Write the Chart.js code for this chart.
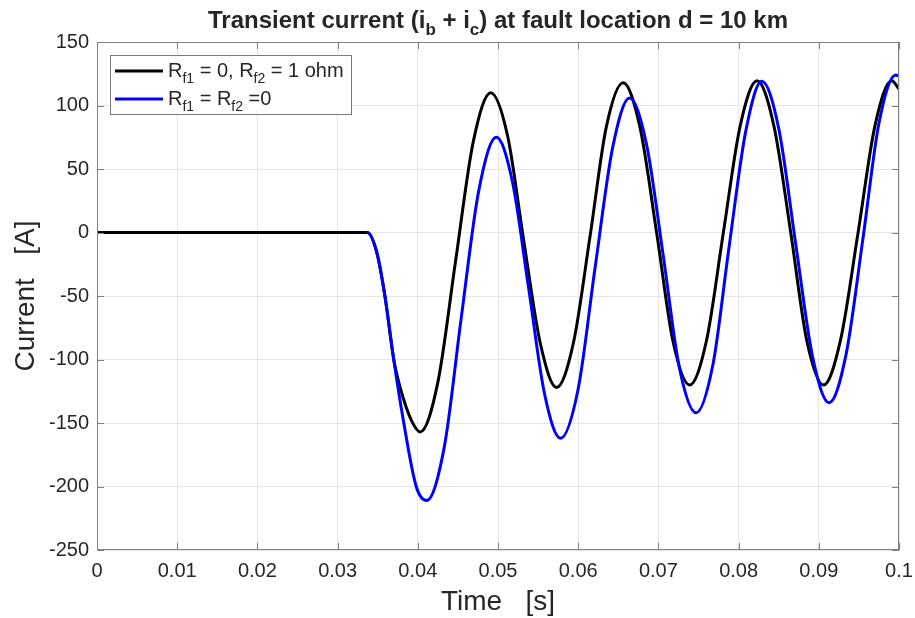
<!DOCTYPE html>
<html>
<head>
<meta charset="utf-8">
<script src="https://cdn.jsdelivr.net/npm/chart.js@4.4.0/dist/chart.umd.min.js"></script>
<style>
  html, body { margin: 0; padding: 0; background: #fff; }
</style>
</head>
<body>
<canvas id="faultChart" width="915" height="618"></canvas>
<script>
// values (time in s, current in A)
const timeBlack = [0, 0.0337, 0.0349, 0.0359, 0.0370, 0.0378, 0.0392, 0.0403,
  0.0425, 0.0447, 0.0469, 0.0491, 0.0512, 0.0532, 0.0553, 0.0573,
  0.0594, 0.0615, 0.0635, 0.0656, 0.0677, 0.0698, 0.0718, 0.0739,
  0.0760, 0.0781, 0.0802, 0.0823, 0.0844, 0.0865, 0.0885, 0.0906,
  0.0927, 0.0949, 0.0970, 0.0991, 0.1000];
const currentBlack = [0, 0, -16, -50, -100, -122, -148, -157,
  -118, -23, 71, 110, 76, -6, -88, -122,
  -87, -2, 83, 118, 83, -1, -85, -120,
  -85, 0, 84, 119.5, 84, 0, -85, -120,
  -85, 0, 84, 119.5, 113];

const timeBlue = [0.0336, 0.0337, 0.0349, 0.0359, 0.0370, 0.0382, 0.0398, 0.0411,
  0.0433, 0.0454, 0.0476, 0.0498, 0.0518, 0.0538, 0.0558, 0.0578,
  0.0600, 0.0621, 0.0643, 0.0664, 0.0685, 0.0706, 0.0726, 0.0747,
  0.0768, 0.0788, 0.0809, 0.0829, 0.0850, 0.0871, 0.0892, 0.0913,
  0.0934, 0.0955, 0.0975, 0.0996, 0.1000];
const currentBlue = [0, 0, -16, -50, -100, -148, -200, -211,
  -169, -68, 33, 75, 40, -43, -127, -162,
  -123, -28, 67, 106, 70, -18, -106, -142,
  -104, -12, 80, 119, 82, -8, -97, -134,
  -96, -5, 86, 124, 123];

const xTicks = [0, 0.01, 0.02, 0.03, 0.04, 0.05, 0.06, 0.07, 0.08, 0.09, 0.1];
const xTickLabels = ['0', '0.01', '0.02', '0.03', '0.04', '0.05', '0.06', '0.07', '0.08', '0.09', '0.1'];
const yTicks = [-250, -200, -150, -100, -50, 0, 50, 100, 150];

const seriesNames = ['R_{f1} = 0, R_{f2} = 1 ohm', 'R_{f1} = R_{f2} =0'];
const seriesColors = ['#000000', '#0000ff'];
const chartTitle = 'Transient current (i_{b} + i_{c}) at fault location d = 10 km';
const xTitle = 'Time   [s]';
const yTitle = 'Current   [A]';

const fontFamily = "'Liberation Sans', Arial, Helvetica, sans-serif";
const textColor = '#262626';
const frameColor = '#808080';

// text with _{...} subscripts
function parseRich(str) {
  const parts = [];
  const re = /_\{([^}]*)\}/g;
  let last = 0, m;
  while ((m = re.exec(str)) !== null) {
    if (m.index > last) parts.push({ text: str.slice(last, m.index), sub: false });
    parts.push({ text: m[1], sub: true });
    last = re.lastIndex;
  }
  if (last < str.length) parts.push({ text: str.slice(last), sub: false });
  return parts;
}

function drawRich(ctx, str, x, y, size, bold, align) {
  const parts = parseRich(str);
  const weight = bold ? 'bold ' : '';
  const subSize = Math.round(size * 0.7);
  let total = 0;
  parts.forEach(p => {
    ctx.font = weight + (p.sub ? subSize : size) + 'px ' + fontFamily;
    p.w = ctx.measureText(p.text).width;
    total += p.w;
  });
  let cx = align === 'center' ? x - total / 2 : x;
  ctx.textAlign = 'left';
  ctx.textBaseline = 'alphabetic';
  parts.forEach(p => {
    ctx.font = weight + (p.sub ? subSize : size) + 'px ' + fontFamily;
    ctx.fillText(p.text, cx, p.sub ? y + size * 0.28 : y);
    cx += p.w;
  });
}

const matlabFrame = {
  id: 'matlabFrame',
  afterDraw(chart) {
    const { ctx, chartArea: a, scales } = chart;
    const xs = scales.x, ys = scales.y;
    ctx.save();

    // box and inward ticks
    ctx.strokeStyle = frameColor;
    ctx.lineWidth = 1;
    ctx.strokeRect(Math.round(a.left) + 0.5, Math.round(a.top) + 0.5,
      Math.round(a.right - a.left) - 1, Math.round(a.bottom - a.top) - 1);
    ctx.beginPath();
    xTicks.forEach(v => {
      const px = Math.round(xs.getPixelForValue(v)) + 0.5;
      ctx.moveTo(px, a.bottom); ctx.lineTo(px, a.bottom - 7);
      ctx.moveTo(px, a.top); ctx.lineTo(px, a.top + 7);
    });
    yTicks.forEach(v => {
      const py = Math.round(ys.getPixelForValue(v)) + 0.5;
      ctx.moveTo(a.left, py); ctx.lineTo(a.left + 7, py);
      ctx.moveTo(a.right, py); ctx.lineTo(a.right - 7, py);
    });
    ctx.stroke();

    // title
    ctx.fillStyle = textColor;
    drawRich(ctx, chartTitle, (a.left + a.right) / 2, 28, 24, true, 'center');

    // axis titles
    ctx.font = '28px ' + fontFamily;
    ctx.textAlign = 'center';
    ctx.textBaseline = 'alphabetic';
    ctx.fillText(xTitle, (a.left + a.right) / 2, 610);
    ctx.save();
    ctx.translate(34, (a.top + a.bottom) / 2);
    ctx.rotate(-Math.PI / 2);
    ctx.fillText(yTitle, 0, 0);
    ctx.restore();

    // legend
    ctx.fillStyle = '#ffffff';
    ctx.fillRect(110, 55, 242, 60);
    ctx.strokeStyle = '#7a7a7a';
    ctx.strokeRect(110.5, 55.5, 241, 59);
    seriesNames.forEach((name, i) => {
      const ly = 71 + i * 28;
      ctx.strokeStyle = seriesColors[i];
      ctx.lineWidth = 3;
      ctx.beginPath();
      ctx.moveTo(115, ly); ctx.lineTo(163, ly);
      ctx.stroke();
      ctx.fillStyle = textColor;
      drawRich(ctx, name, 168, ly + 6, 20, false, 'left');
    });
    ctx.restore();
  }
};

const toPoints = (xsArr, ysArr) => xsArr.map((t, i) => ({ x: t, y: ysArr[i] }));

new Chart(document.getElementById('faultChart').getContext('2d'), {
  type: 'line',
  data: {
    datasets: [{
      label: seriesNames[0],
      data: toPoints(timeBlack, currentBlack),
      borderColor: seriesColors[0],
      borderWidth: 3,
      pointRadius: 0,
      cubicInterpolationMode: 'monotone',
      order: 2
    }, {
      label: seriesNames[1],
      data: toPoints(timeBlue, currentBlue),
      borderColor: seriesColors[1],
      borderWidth: 3,
      pointRadius: 0,
      cubicInterpolationMode: 'monotone',
      order: 1
    }]
  },
  options: {
    responsive: false,
    animation: false,
    layout: { padding: { top: 42, right: 16, left: 0, bottom: 0 } },
    plugins: { legend: { display: false }, tooltip: { enabled: false }, title: { display: false } },
    scales: {
      x: {
        type: 'linear',
        min: 0,
        max: 0.1,
        afterBuildTicks: s => { s.ticks = xTicks.map(v => ({ value: v })); },
        afterFit: s => { s.height = 68; s.paddingLeft = 0; s.paddingRight = 0; },
        grid: { color: '#e6e6e6', drawTicks: false },
        border: { display: false },
        ticks: {
          color: textColor,
          font: { family: fontFamily, size: 20 },
          padding: 9,
          maxRotation: 0,
          autoSkip: false,
          callback: (v, i) => xTickLabels[i]
        }
      },
      y: {
        min: -250,
        max: 150,
        afterBuildTicks: s => { s.ticks = yTicks.map(v => ({ value: v })); },
        afterFit: s => { s.width = 97; s.paddingTop = 0; s.paddingBottom = 0; },
        grid: { color: '#e6e6e6', drawTicks: false },
        border: { display: false },
        ticks: {
          color: textColor,
          font: { family: fontFamily, size: 20 },
          padding: 8,
          callback: v => String(v)
        }
      }
    }
  },
  plugins: [matlabFrame]
});
</script>
</body>
</html>
